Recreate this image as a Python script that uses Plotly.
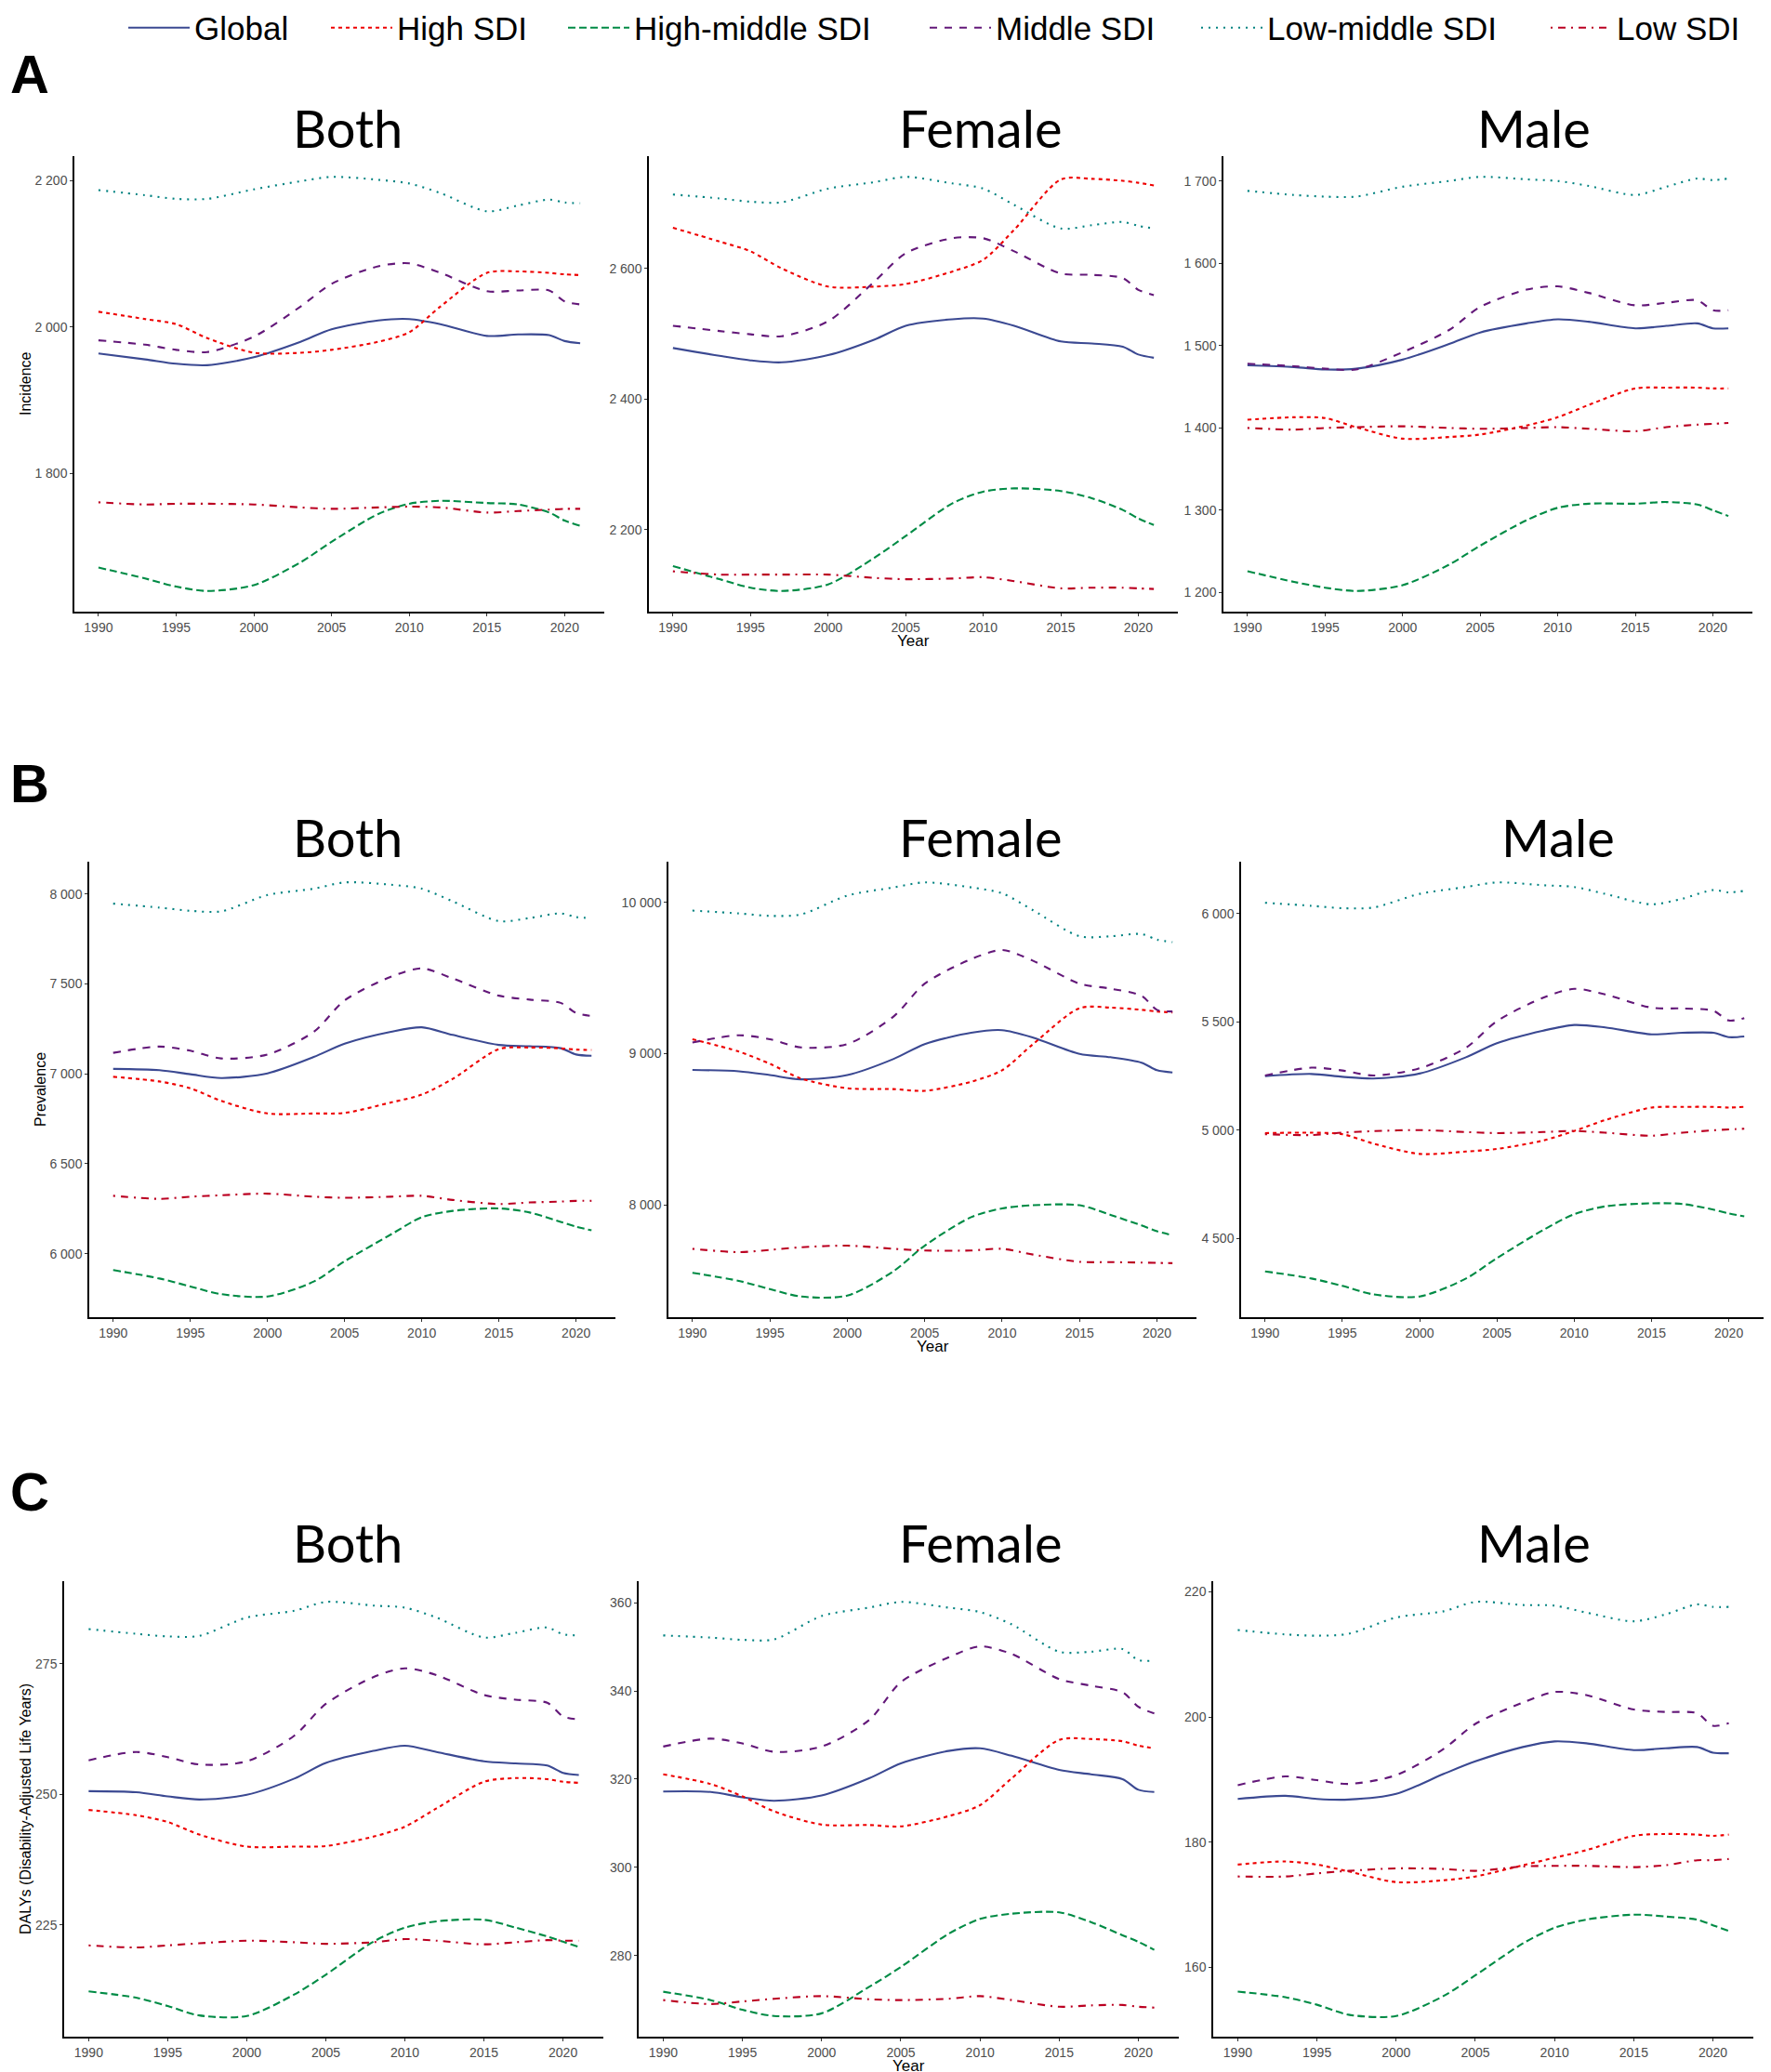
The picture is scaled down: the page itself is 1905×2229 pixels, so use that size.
import plotly.graph_objects as go

W, H = 1905, 2229

years = [1990, 1993, 1995, 1997, 2000, 2003, 2005, 2008, 2010, 2012, 2015, 2017, 2019, 2020, 2021]
series = ["Global", "High SDI", "High-middle SDI", "Middle SDI", "Low-middle SDI", "Low SDI"]
colors = ["#3B4992", "#EE0000", "#008B45", "#631879", "#008280", "#BB0021"]
dashes = ["solid", "4px,4px", "8px,4px", "8px,8px", "2px,6px", "2px,6px,8px,6px"]
sexes = ["Both", "Female", "Male"]
measures = ["Incidence", "Prevalence", "DALYs (Disability-Adjusted Life Years)"]
x_ticks = [1990, 1995, 2000, 2005, 2010, 2015, 2020]

incidence_both = {
    "Global": [1964, 1956, 1950, 1948, 1959, 1980, 1997, 2009, 2011, 2004, 1988, 1990, 1989, 1981, 1978],
    "High SDI": [2021, 2011, 2004, 1985, 1965, 1965, 1969, 1980, 1993, 2028, 2074, 2076, 2074, 2072, 2071],
    "High-middle SDI": [1672, 1657, 1646, 1640, 1648, 1679, 1707, 1745, 1759, 1763, 1760, 1758, 1747, 1736, 1729],
    "Middle SDI": [1982, 1976, 1969, 1966, 1987, 2028, 2059, 2083, 2087, 2074, 2049, 2050, 2050, 2035, 2031],
    "Low-middle SDI": [2187, 2180, 2175, 2175, 2188, 2199, 2205, 2201, 2196, 2183, 2158, 2166, 2174, 2170, 2169],
    "Low SDI": [1761, 1758, 1759, 1759, 1758, 1754, 1752, 1754, 1755, 1754, 1747, 1749, 1751, 1752, 1752],
}
incidence_female = {
    "Global": [2478, 2466, 2459, 2456, 2467, 2491, 2512, 2522, 2523, 2512, 2488, 2485, 2480, 2468, 2463],
    "High SDI": [2662, 2641, 2626, 2600, 2572, 2572, 2576, 2595, 2613, 2659, 2736, 2737, 2734, 2731, 2727],
    "High-middle SDI": [2144, 2124, 2111, 2106, 2116, 2157, 2190, 2240, 2258, 2263, 2259, 2248, 2230, 2217, 2207],
    "Middle SDI": [2512, 2504, 2499, 2496, 2519, 2580, 2623, 2646, 2646, 2626, 2592, 2590, 2585, 2567, 2559],
    "Low-middle SDI": [2713, 2707, 2702, 2701, 2722, 2732, 2740, 2730, 2722, 2697, 2661, 2666, 2671, 2665, 2661],
    "Low SDI": [2136, 2131, 2131, 2131, 2131, 2126, 2124, 2125, 2127, 2121, 2110, 2111, 2111, 2110, 2109],
}
incidence_male = {
    "Global": [1476, 1474, 1471, 1472, 1483, 1502, 1516, 1527, 1532, 1529, 1521, 1524, 1527, 1521, 1521],
    "High SDI": [1410, 1413, 1412, 1401, 1387, 1389, 1392, 1403, 1413, 1428, 1448, 1449, 1449, 1448, 1448],
    "High-middle SDI": [1226, 1213, 1206, 1202, 1209, 1234, 1257, 1288, 1303, 1308, 1308, 1310, 1307, 1300, 1293],
    "Middle SDI": [1478, 1475, 1472, 1471, 1492, 1519, 1547, 1568, 1572, 1564, 1549, 1552, 1555, 1543, 1543],
    "Low-middle SDI": [1688, 1683, 1681, 1681, 1693, 1700, 1705, 1702, 1700, 1694, 1683, 1693, 1703, 1701, 1703],
    "Low SDI": [1400, 1398, 1400, 1401, 1402, 1400, 1399, 1400, 1401, 1399, 1396, 1401, 1404, 1405, 1406],
}
prevalence_both = {
    "Global": [7028, 7021, 6998, 6977, 7003, 7094, 7168, 7234, 7259, 7217, 7161, 7154, 7143, 7108, 7101],
    "High SDI": [6984, 6958, 6920, 6850, 6780, 6780, 6783, 6841, 6885, 6972, 7138, 7147, 7142, 7135, 7133],
    "High-middle SDI": [5909, 5862, 5818, 5775, 5762, 5845, 5958, 6107, 6203, 6238, 6252, 6229, 6177, 6150, 6130],
    "Middle SDI": [7117, 7152, 7129, 7086, 7108, 7234, 7409, 7540, 7587, 7531, 7435, 7413, 7395, 7339, 7322],
    "Low-middle SDI": [7947, 7925, 7907, 7904, 7995, 8030, 8065, 8052, 8030, 7960, 7850, 7867, 7893, 7872, 7867],
    "Low SDI": [6322, 6305, 6317, 6325, 6334, 6317, 6311, 6317, 6322, 6299, 6276, 6285, 6290, 6294, 6294],
}
prevalence_female = {
    "Global": [8892, 8883, 8858, 8830, 8858, 8965, 9063, 9138, 9155, 9106, 8998, 8976, 8940, 8890, 8875],
    "High SDI": [9095, 9013, 8933, 8836, 8771, 8765, 8754, 8814, 8890, 9063, 9300, 9304, 9289, 9278, 9272],
    "High-middle SDI": [7552, 7498, 7444, 7395, 7401, 7563, 7731, 7919, 7977, 7998, 7998, 7934, 7865, 7826, 7800],
    "Middle SDI": [9073, 9121, 9095, 9041, 9063, 9246, 9462, 9624, 9684, 9613, 9462, 9429, 9382, 9289, 9278],
    "Low-middle SDI": [9945, 9926, 9910, 9919, 10044, 10098, 10131, 10098, 10059, 9947, 9775, 9775, 9790, 9753, 9736],
    "Low SDI": [7710, 7688, 7703, 7720, 7731, 7710, 7699, 7699, 7710, 7672, 7624, 7622, 7619, 7617, 7615],
}
prevalence_male = {
    "Global": [5249, 5259, 5246, 5238, 5261, 5336, 5401, 5459, 5485, 5474, 5442, 5449, 5449, 5429, 5432],
    "High SDI": [4986, 4988, 4981, 4938, 4890, 4901, 4913, 4952, 4996, 5046, 5104, 5107, 5107, 5104, 5107],
    "High-middle SDI": [4348, 4315, 4281, 4242, 4232, 4315, 4409, 4539, 4612, 4648, 4662, 4659, 4633, 4615, 4602],
    "Middle SDI": [5252, 5288, 5275, 5252, 5285, 5380, 5503, 5611, 5652, 5626, 5565, 5561, 5551, 5506, 5517],
    "Low-middle SDI": [6049, 6035, 6024, 6027, 6090, 6122, 6143, 6130, 6122, 6090, 6042, 6068, 6108, 6097, 6104],
    "Low SDI": [4981, 4977, 4988, 4995, 5000, 4991, 4986, 4991, 4996, 4988, 4974, 4988, 4999, 5003, 5006],
}
dalys_both = {
    "Global": [250.6, 250.4, 249.6, 249.0, 249.9, 253.0, 256.0, 258.3, 259.3, 258.1, 256.3, 255.9, 255.5, 254.1, 253.7],
    "High SDI": [247.0, 246.0, 244.7, 242.3, 240.0, 240.0, 240.1, 241.9, 243.8, 247.3, 252.4, 253.1, 252.9, 252.4, 252.2],
    "High-middle SDI": [212.3, 211.1, 209.5, 207.7, 207.6, 211.7, 215.5, 221.8, 224.5, 225.7, 226.0, 224.5, 222.8, 221.8, 220.8],
    "Middle SDI": [256.5, 258.1, 257.1, 255.7, 256.3, 261.2, 267.3, 272.4, 274.1, 272.8, 269.0, 268.1, 267.5, 264.9, 264.3],
    "Low-middle SDI": [281.6, 280.7, 280.2, 280.3, 283.8, 285.1, 286.8, 286.1, 285.7, 283.8, 280.0, 280.9, 281.9, 280.6, 280.4],
    "Low SDI": [221.1, 220.7, 221.1, 221.5, 222.0, 221.7, 221.4, 221.7, 222.3, 222.0, 221.3, 221.7, 222.1, 222.0, 222.0],
}
dalys_female = {
    "Global": [317.2, 317.1, 315.9, 315.1, 316.3, 320.2, 323.6, 326.4, 327.0, 325.3, 322.1, 321.1, 320.0, 317.6, 317.1],
    "High SDI": [321.1, 318.9, 316.1, 312.7, 309.7, 309.6, 309.3, 311.6, 314.1, 320.2, 328.9, 329.1, 328.6, 327.6, 327.0],
    "High-middle SDI": [271.8, 269.9, 267.7, 266.3, 266.9, 272.9, 277.4, 284.9, 288.3, 289.5, 289.8, 287.6, 284.6, 283.1, 281.3],
    "Middle SDI": [327.4, 329.2, 328.1, 326.2, 327.4, 333.4, 342.0, 347.6, 350.1, 348.4, 342.7, 341.2, 339.7, 336.4, 334.9],
    "Low-middle SDI": [352.6, 352.1, 351.6, 351.7, 357.0, 358.9, 360.2, 358.9, 357.9, 355.1, 348.9, 348.9, 349.5, 347.0, 346.9],
    "Low SDI": [269.9, 269.0, 269.6, 270.2, 270.8, 270.1, 269.9, 270.2, 270.8, 269.9, 268.4, 268.7, 268.8, 268.4, 268.2],
}
dalys_male = {
    "Global": [186.9, 187.4, 186.9, 186.8, 187.7, 190.9, 192.9, 195.2, 196.1, 195.8, 194.7, 195.0, 195.2, 194.3, 194.2],
    "High SDI": [176.4, 176.9, 176.4, 175.3, 173.6, 173.9, 174.5, 176.3, 177.5, 178.7, 181.0, 181.3, 181.2, 181.0, 181.2],
    "High-middle SDI": [156.1, 155.2, 154.0, 152.4, 152.2, 155.4, 158.7, 163.8, 166.3, 167.6, 168.4, 168.1, 167.6, 166.7, 165.8],
    "Middle SDI": [189.1, 190.5, 189.9, 189.3, 190.7, 194.9, 198.9, 202.3, 204.0, 203.5, 201.2, 200.8, 200.6, 198.6, 199.0],
    "Low-middle SDI": [213.9, 213.2, 213.0, 213.3, 215.9, 216.9, 218.4, 217.9, 217.8, 216.7, 215.3, 216.4, 218.0, 217.6, 217.6],
    "Low SDI": [174.5, 174.5, 175.0, 175.4, 175.8, 175.7, 175.4, 176.1, 176.2, 176.2, 176.0, 176.3, 177.1, 177.1, 177.3],
}

panel_data = [
    [incidence_both, incidence_female, incidence_male],
    [prevalence_both, prevalence_female, prevalence_male],
    [dalys_both, dalys_female, dalys_male],
]
y_dticks = [[200, 200, 100], [500, 1000, 500], [25, 20, 20]]

# layout in screen pixels: (left, right) per panel, (top, bottom) per row
x_px = [
    [(80, 650), (698, 1267), (1316, 1885)],
    [(96, 662), (719, 1287), (1335, 1902)],
    [(69, 649), (687, 1268), (1305, 1886)],
]
y_px = [(168, 658), (927, 1417), (1701, 2191)]
title_x = [[374, 1054, 1650], [374, 1054, 1676], [374, 1054, 1650]]
title_y = [138, 900, 1659]
letter_y = [80, 843, 1604]
ytitle_x = [27, 43, 27]
legend_x = [134, 352, 607, 996, 1288, 1664]

# the page body adds a small offset around the figure; compensate
OFF_X, OFF_Y = 8, 8

TICK_FONT = dict(family="Liberation Sans, Arial, sans-serif", size=14, color="#4D4D4D")
TEXT_FONT = "Liberation Sans, Arial, sans-serif"


def px_x(v):
    return (v - OFF_X) / W


def px_y(v):
    return 1 - (v - OFF_Y) / H


fig = go.Figure()
annotations = []

for r in range(3):
    for c in range(3):
        k = r * 3 + c + 1
        xa = "x" if k == 1 else f"x{k}"
        ya = "y" if k == 1 else f"y{k}"
        data = panel_data[r][c]
        for i, (name, col, dash) in enumerate(zip(series, colors, dashes)):
            fig.add_trace(go.Scatter(
                x=years, y=data[name], mode="lines", name=name,
                line=dict(color=col, width=2.1, dash=dash, shape="spline", smoothing=0.8),
                legendgroup=name, showlegend=(k == 1),
                legend="legend" if i == 0 else f"legend{i + 1}",
                xaxis=xa, yaxis=ya,
            ))
        # ggplot-style 5% expansion of the data range
        vals = [v for s in series for v in data[s]]
        lo, hi = min(vals), max(vals)
        pad = (hi - lo) * 0.05
        xl, xr = x_px[r][c]
        top, bot = y_px[r]
        axis_common = dict(
            showline=True, linecolor="black", linewidth=1.5, mirror=False,
            showgrid=False, zeroline=False, ticks="outside", ticklen=3,
            tickcolor="#333333", tickwidth=1.2, tickfont=TICK_FONT, automargin=False,
        )
        fig.layout[f"xaxis{k if k > 1 else ''}"] = dict(
            domain=[px_x(xl), px_x(xr)], anchor=ya,
            range=[1990 - 31 * 0.05, 2021 + 31 * 0.05],
            tickvals=x_ticks, **axis_common,
        )
        fig.layout[f"yaxis{k if k > 1 else ''}"] = dict(
            domain=[px_y(bot), px_y(top)], anchor=xa,
            range=[lo - pad, hi + pad], dtick=y_dticks[r][c], tick0=0,
            tickformat=",d", **axis_common,
        )
        annotations.append(dict(
            text=sexes[c], x=px_x(title_x[r][c]), y=px_y(title_y[r]),
            xref="paper", yref="paper", showarrow=False,
            xanchor="center", yanchor="middle",
            font=dict(family="Lato, Open Sans, sans-serif", size=56, color="black"),
        ))
    annotations.append(dict(
        text=measures[r], x=px_x(ytitle_x[r]), y=px_y((y_px[r][0] + y_px[r][1]) / 2),
        xref="paper", yref="paper", showarrow=False, textangle=-90,
        xanchor="center", yanchor="middle",
        font=dict(family=TEXT_FONT, size=16, color="black"),
    ))
    fx = (x_px[r][1][0] + x_px[r][1][1]) / 2
    annotations.append(dict(
        text="Year", x=px_x(fx), y=px_y(y_px[r][1] + 31),
        xref="paper", yref="paper", showarrow=False,
        xanchor="center", yanchor="middle",
        font=dict(family=TEXT_FONT, size=17, color="black"),
    ))
    annotations.append(dict(
        text="<b>" + "ABC"[r] + "</b>", x=px_x(10), y=px_y(letter_y[r]),
        xref="paper", yref="paper", showarrow=False,
        xanchor="left", yanchor="middle", borderpad=0,
        font=dict(family=TEXT_FONT, size=58, color="black"),
    ))

legend_style = dict(
    orientation="h", yanchor="middle", xanchor="left",
    font=dict(family=TEXT_FONT, size=35, color="black"),
    itemwidth=66, bgcolor="rgba(0,0,0,0)", borderwidth=0,
)
layout_legends = {}
for i, lx in enumerate(legend_x):
    key = "legend" if i == 0 else f"legend{i + 1}"
    layout_legends[key] = dict(x=px_x(lx - 1), y=px_y(30), **legend_style)

fig.update_layout(
    width=W, height=H,
    margin=dict(l=0, r=0, t=0, b=0, autoexpand=False),
    paper_bgcolor="white", plot_bgcolor="white",
    separators=". ",
    annotations=annotations,
    **layout_legends,
)

fig.write_html("out.html")
